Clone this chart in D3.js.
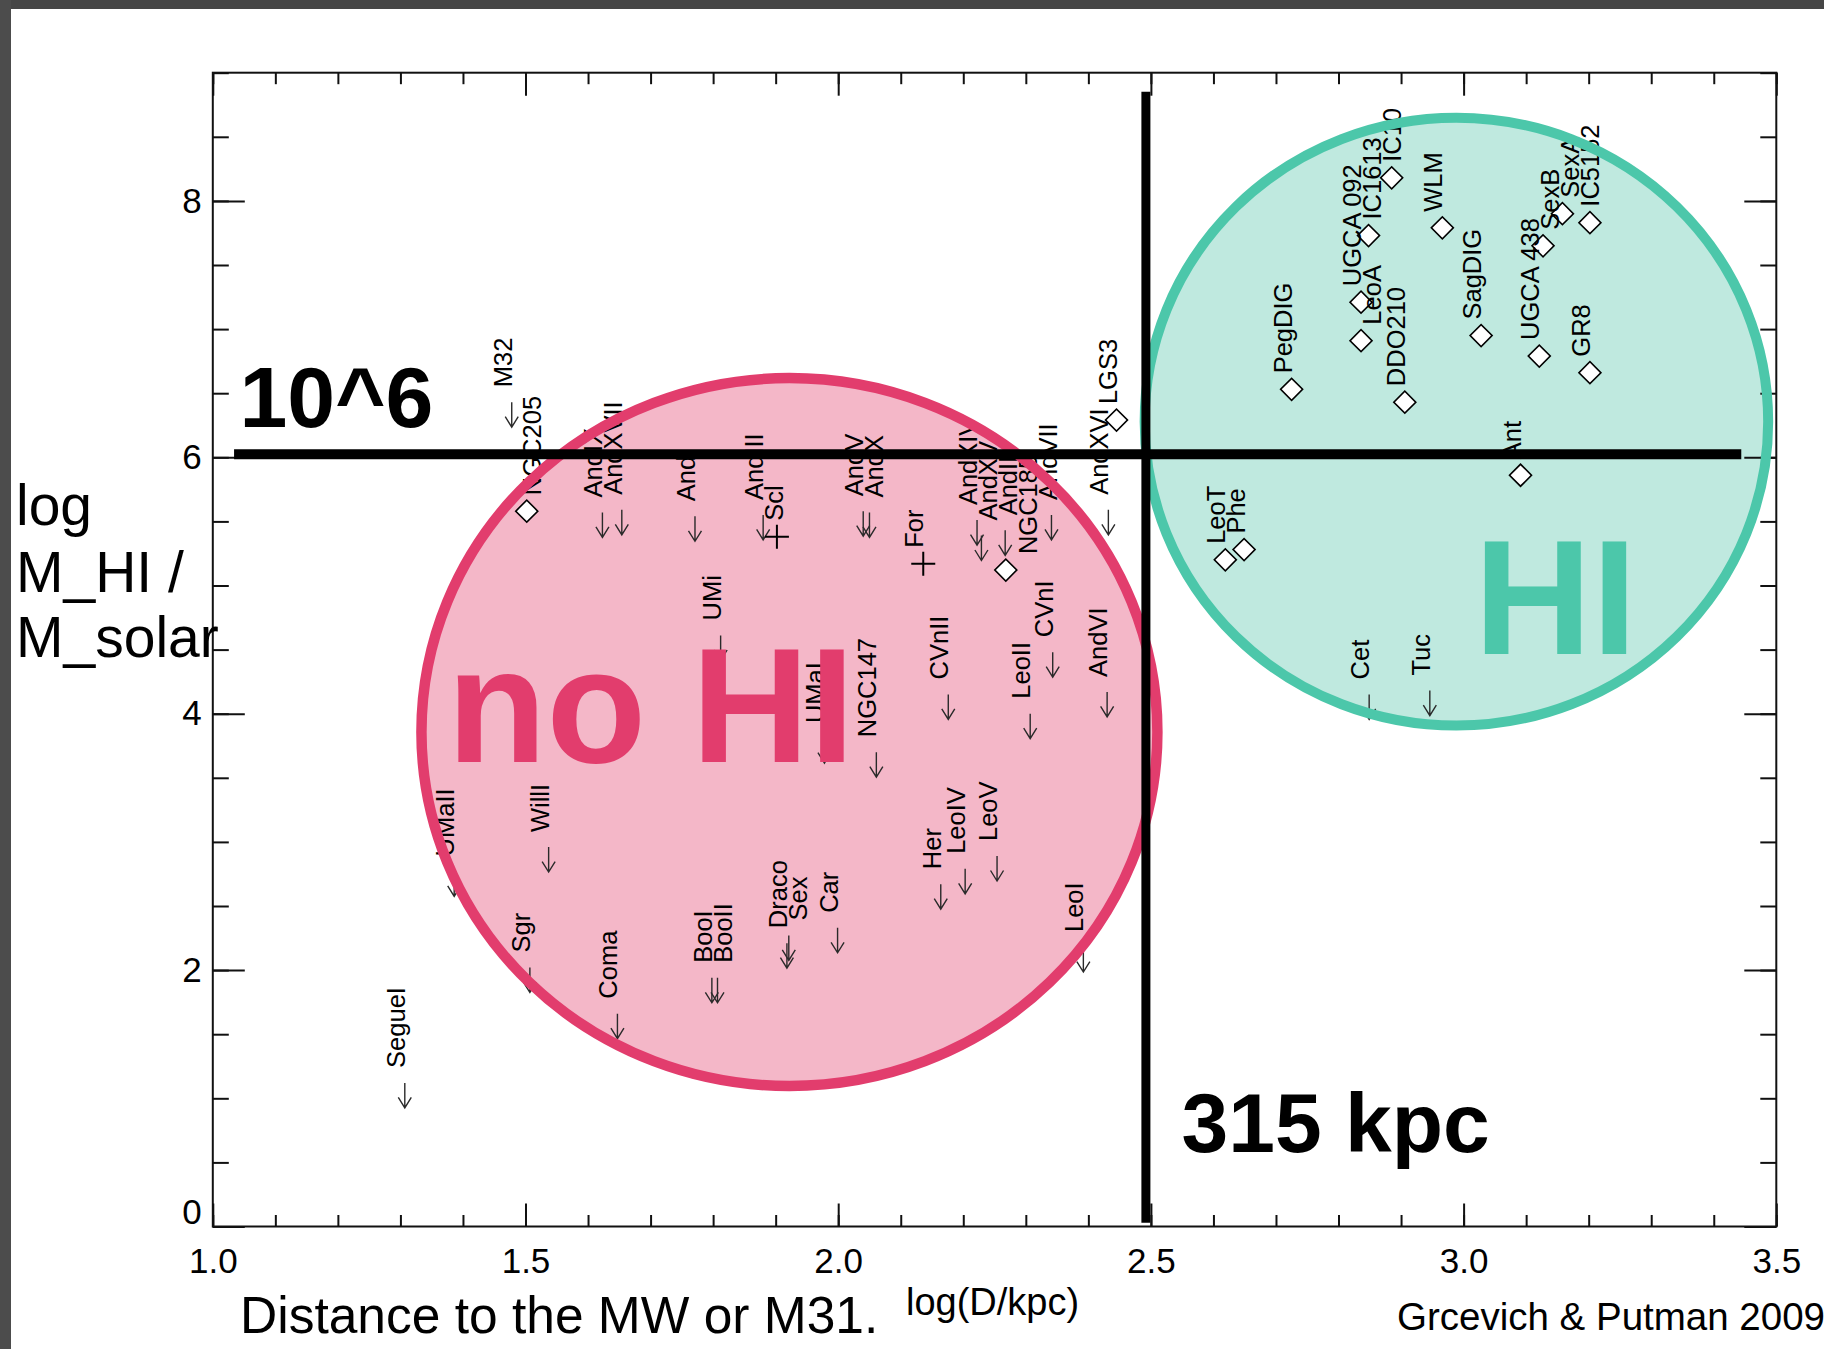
<!DOCTYPE html>
<html lang="en">
<head>
<meta charset="UTF-8">
<title>HI mass of Local Group dwarfs vs distance</title>
<style>
  body { margin: 0; background: #fff; }
  svg { display: block; font-family: "Liberation Sans", Arial, Helvetica, sans-serif; }
</style>
</head>
<body>
<svg id="chart"></svg>
<script src="https://d3js.org/d3.v7.min.js"></script>
<script>
// galaxies detected in HI (diamonds)
var detNames = ["NGC205", "NGC185", "LGS3", "LeoT", "Phe", "PegDIG", "UGCA 092", "LeoA", "IC1613", "IC10",
                "DDO210", "WLM", "SagDIG", "UGCA 438", "SexB", "SexA", "IC5152", "GR8", "Ant"];
var detLogD = [1.502, 2.268, 2.445, 2.619, 2.649, 2.725, 2.836, 2.836, 2.848, 2.885,
               2.906, 2.966, 3.028, 3.121, 3.127, 3.158, 3.202, 3.202, 3.091];
var detLogM = [5.58, 5.12, 6.29, 5.20, 5.28, 6.53, 7.21, 6.91, 7.73, 8.18,
               6.43, 7.79, 6.95, 6.79, 7.65, 7.90, 7.83, 6.66, 5.86];

// upper limits (down arrows)
var limNames = ["M32", "AndIX", "AndXVII", "AndI", "AndIII", "UMi", "AndV", "AndX", "UMaI", "NGC147",
                "CVnII", "AndXIV", "AndXV", "AndII", "AndVII", "AndXVI", "CVnI", "LeoII", "AndVI", "UMaII",
                "WillI", "Sgr", "SegueI", "Coma", "BooI", "BooII", "Draco", "Sex", "Car", "Her",
                "LeoIV", "LeoV", "LeoI", "Cet", "Tuc"];
var limLogD = [1.478, 1.623, 1.654, 1.771, 1.880, 1.812, 2.040, 2.050, 1.978, 2.061,
               2.176, 2.222, 2.229, 2.267, 2.341, 2.432, 2.343, 2.307, 2.430, 1.386,
               1.537, 1.507, 1.307, 1.647, 1.798, 1.807, 1.918, 1.921, 1.999, 2.164,
               2.203, 2.254, 2.392, 2.849, 2.946];
var limLogM = [6.43, 5.57, 5.59, 5.54, 5.55, 4.61, 5.58, 5.57, 3.81, 3.70,
               4.15, 5.51, 5.39, 5.43, 5.55, 5.59, 4.48, 4.00, 4.17, 2.77,
               2.96, 2.02, 1.12, 1.66, 1.94, 1.94, 2.21, 2.27, 2.33, 2.67,
               2.79, 2.89, 2.18, 4.15, 4.18];

// crosses
var crossNames = ["Scl", "For"];
var crossLogD = [1.902, 2.136];
var crossLogM = [5.38, 5.17];

var xTicks = [1.0, 1.5, 2.0, 2.5, 3.0, 3.5];
var yTicks = [0, 2, 4, 6, 8];

var W = 1824, H = 1349;
var x = d3.scaleLinear().domain([1, 3.5]).range([212.8, 1776.3]);
var y = d3.scaleLinear().domain([0, 9]).range([1226.5, 72.7]);

var svg = d3.select("#chart").attr("width", W).attr("height", H);
svg.append("rect").attr("width", W).attr("height", H).attr("fill", "#fff");
// slide edge
svg.append("rect").attr("width", W).attr("height", 9).attr("fill", "#464646");
svg.append("rect").attr("width", 11).attr("height", H).attr("fill", "#4c4c4c");

// the two hand-drawn regions
var blobs = [
  { cx: 1.922, cy: 3.857, rx: 0.5884, ry: 2.761, fill: "#f4b7c8", stroke: "#e23d6d", sw: 10.5 },
  { cx: 2.9885, cy: 6.278, rx: 0.4985, ry: 2.371, fill: "#bfe9df", stroke: "#4cc7aa", sw: 10 }
];
function ell(sel) {
  sel.attr("cx", d => x(d.cx)).attr("cy", d => y(d.cy))
     .attr("rx", d => x(d.cx + d.rx) - x(d.cx))
     .attr("ry", d => y(d.cy - d.ry) - y(d.cy));
}
svg.append("g").selectAll("ellipse").data(blobs).join("ellipse")
  .call(ell).attr("fill", d => d.fill);

// axes
var minorX = d3.range(10, 36).map(d => d / 10);
var minorY = d3.range(0, 19).map(d => d / 2);
function styleAxis(g) {
  g.select(".domain").remove();
  g.selectAll("line").attr("stroke", "#111").attr("stroke-width", 2);
  g.selectAll("text").attr("font-size", 35).attr("fill", "#000")
    .attr("font-family", "'Liberation Sans', Arial, sans-serif");
}
svg.append("g").attr("transform", "translate(0," + y(0) + ")")
  .call(d3.axisBottom(x).tickValues(minorX).tickSize(-11.5).tickFormat("")).call(styleAxis);
svg.append("g").attr("transform", "translate(0," + y(0) + ")")
  .call(d3.axisBottom(x).tickValues(xTicks).tickSize(-23).tickPadding(21.5).tickFormat(d3.format(".1f")))
  .call(styleAxis);
svg.append("g").attr("transform", "translate(0," + y(9) + ")")
  .call(d3.axisTop(x).tickValues(minorX).tickSize(-11.5).tickFormat("")).call(styleAxis);
svg.append("g").attr("transform", "translate(0," + y(9) + ")")
  .call(d3.axisTop(x).tickValues(xTicks).tickSize(-23).tickFormat("")).call(styleAxis);
svg.append("g").attr("transform", "translate(" + x(1) + ",0)")
  .call(d3.axisLeft(y).tickValues(minorY).tickSize(-16).tickFormat("")).call(styleAxis);
var yAx = svg.append("g").attr("transform", "translate(" + x(1) + ",0)")
  .call(d3.axisLeft(y).tickValues(yTicks).tickSize(-32).tickPadding(11).tickFormat(d3.format("d")))
  .call(styleAxis);
yAx.selectAll(".tick text").filter(d => d === 0).attr("y", -14);
svg.append("g").attr("transform", "translate(" + x(3.5) + ",0)")
  .call(d3.axisRight(y).tickValues(minorY).tickSize(-16).tickFormat("")).call(styleAxis);
svg.append("g").attr("transform", "translate(" + x(3.5) + ",0)")
  .call(d3.axisRight(y).tickValues(yTicks).tickSize(-32).tickFormat("")).call(styleAxis);
svg.append("rect")
  .attr("x", x(1)).attr("y", y(9)).attr("width", x(3.5) - x(1)).attr("height", y(0) - y(9))
  .attr("fill", "none").attr("stroke", "#111").attr("stroke-width", 2);

// data
var det = detNames.map((n, i) => ({ name: n, d: detLogD[i], m: detLogM[i] }));
var lim = limNames.map((n, i) => ({ name: n, d: limLogD[i], m: limLogM[i] }));
var crs = crossNames.map((n, i) => ({ name: n, d: crossLogD[i], m: crossLogM[i] }));

var marks = svg.append("g");
marks.selectAll("path.lim").data(lim).join("path").attr("class", "lim")
  .attr("d", d => {
    var X = x(d.d), Y = y(d.m);
    return "M" + X + "," + Y + "V" + (Y + 25) + "M" + (X - 6.5) + "," + (Y + 14.5) +
           "L" + X + "," + (Y + 25) + "L" + (X + 6.5) + "," + (Y + 14.5);
  })
  .attr("fill", "none").attr("stroke", "#2a2a2a").attr("stroke-width", 1.4);

marks.selectAll("path.cross").data(crs).join("path").attr("class", "cross")
  .attr("transform", d => "translate(" + x(d.d) + "," + y(d.m) + ")")
  .attr("d", "M-12,0H12M0,-12V12")
  .attr("stroke", "#000").attr("stroke-width", 2);

marks.selectAll("path.det").data(det).join("path").attr("class", "det")
  .attr("transform", d => "translate(" + x(d.d) + "," + y(d.m) + ") rotate(45)")
  .attr("d", d3.symbol(d3.symbolSquare, 242))
  .attr("fill", "#fff").attr("stroke", "#000").attr("stroke-width", 1.6);

// rotated name labels, nudged sideways where they would hit another label or an arrow
var labs = det.map(d => ({ name: d.name, lx: x(d.d), ly: y(d.m) - 16 }))
  .concat(crs.map(d => ({ name: d.name, lx: x(d.d), ly: y(d.m) - 16 })))
  .concat(lim.map(d => ({ name: d.name, lx: x(d.d), ly: y(d.m) - 15 })));
var arrows = lim.map(d => ({ X: x(d.d), Y: y(d.m) }));
var labG = marks.append("g");
labs.forEach(l => {
  l.node = labG.append("text").text(l.name).attr("font-size", 25.5).attr("fill", "#000");
  l.len = l.node.node().getComputedTextLength();
});
labs.sort((a, b) => a.lx - b.lx || a.ly - b.ly);
var placed = [];
labs.forEach(l => {
  var moved = true;
  while (moved) {
    moved = false;
    placed.forEach(q => {
      if (Math.abs(l.lx - q.lx) < 19.9 && l.ly > q.ly - q.len && l.ly - l.len < q.ly) {
        l.lx = q.lx + 20; moved = true;
      }
    });
    arrows.forEach(a => {
      if (l.lx - 18 < a.X + 7 && l.lx + 2 > a.X - 7 && l.ly > a.Y + 6 && l.ly - l.len < a.Y + 19) {
        l.lx = a.X + 29; moved = true;
      }
    });
  }
  placed.push(l);
  l.node.attr("transform", "translate(" + l.lx + "," + l.ly + ") rotate(-90)");
});

// region outlines and big words on top of the points
svg.append("g").selectAll("ellipse").data(blobs).join("ellipse")
  .call(ell).attr("fill", "none").attr("stroke", d => d.stroke).attr("stroke-width", d => d.sw);

svg.append("text").text("no HI").attr("x", x(1.3745)).attr("y", y(3.626))
  .attr("font-size", 163).attr("font-weight", "bold").attr("fill", "#e23d6d");
svg.append("text").text("HI").attr("x", x(3.0167)).attr("y", y(4.466))
  .attr("font-size", 163).attr("font-weight", "bold").attr("fill", "#4cc7aa");

// 10^6 and 315 kpc cuts
svg.append("line").attr("x1", x(1.034)).attr("x2", x(3.444)).attr("y1", y(6.023)).attr("y2", y(6.023))
  .attr("stroke", "#000").attr("stroke-width", 10);
svg.append("line").attr("x1", x(2.492)).attr("x2", x(2.492)).attr("y1", y(8.852)).attr("y2", y(0.03))
  .attr("stroke", "#000").attr("stroke-width", 9);
svg.append("text").text("10^6").attr("x", x(1.0427)).attr("y", y(6.236))
  .attr("font-size", 86).attr("font-weight", "bold");
svg.append("text").text("315 kpc").attr("x", x(2.549)).attr("y", y(0.583))
  .attr("font-size", 84).attr("font-weight", "bold");

// titles
var yt = svg.append("text").attr("x", 16).attr("font-size", 57).attr("fill", "#000");
[["log", 525], ["M_HI /", 592], ["M_solar", 657]].forEach(t => {
  yt.append("tspan").attr("x", 16).attr("y", t[1]).text(t[0]);
});
svg.append("text").text("Distance to the MW or M31.").attr("x", 240).attr("y", 1333)
  .attr("font-size", 51.5);
svg.append("text").text("log(D/kpc)").attr("x", 906).attr("y", 1315).attr("font-size", 38);
svg.append("text").text("Grcevich & Putman 2009").attr("x", 1397).attr("y", 1330).attr("font-size", 38.5);
</script>
</body>
</html>
